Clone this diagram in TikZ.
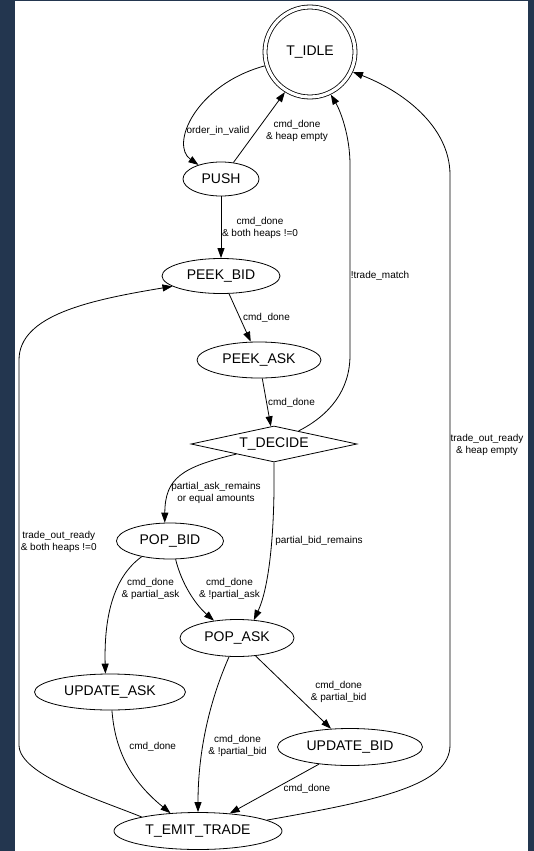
\documentclass[tikz,border=0pt]{standalone}
\usepackage{fontspec}
\setmainfont{Liberation Sans}
\usepackage{tikz}
\usetikzlibrary{arrows.meta,shapes.geometric}
\definecolor{bgnavy}{HTML}{23364F}

\begin{document}
\begin{tikzpicture}[x=1pt, y=1pt, line width=0.8pt,
        st/.style={draw, ellipse, inner sep=0pt, font=\fontsize{14}{16}\selectfont},
        lb/.style={align=center, inner sep=1pt, font=\fontsize{10}{12}\selectfont},
        >={Triangle[length=10pt, width=7pt]}]
        \useasboundingbox (0,0) rectangle (534,-851);
        \fill[bgnavy] (0,0) rectangle (534,-851);
        \fill[white] (15,-1.5) rectangle (528,-851);
        \node[draw, circle, double, double distance=3.2pt, minimum size=90pt, outer sep=2.4pt,
                font=\fontsize{14}{16}\selectfont] (idle) at (310,-52) {T\_IDLE};
        \node[st, minimum width=76pt, minimum height=34pt] (push) at (221,-179) {PUSH};
        \node[st, minimum width=118pt, minimum height=35pt] (peekbid) at (221,-276) {PEEK\_BID};
        \node[st, minimum width=124pt, minimum height=36pt] (peekask) at (259,-360) {PEEK\_ASK};
        \node[st, diamond, aspect=5, minimum width=166pt, minimum height=36pt] (decide) at (274,-444) {T\_DECIDE};
        \node[st, minimum width=107pt, minimum height=36pt] (popbid) at (170,-541) {POP\_BID};
        \node[st, minimum width=114pt, minimum height=37pt] (popask) at (237,-638) {POP\_ASK};
        \node[st, minimum width=151pt, minimum height=36pt] (updask) at (110,-692) {UPDATE\_ASK};
        \node[st, minimum width=145pt, minimum height=37pt] (updbid) at (350,-747) {UPDATE\_BID};
        \node[st, minimum width=168pt, minimum height=37pt] (emit) at (198,-831) {T\_EMIT\_TRADE};

        \draw[->] (idle.197) .. controls (195,-85) and (170,-145) .. (push.148);
        \draw[->] (push.53) -- (idle.238);
        \draw[->] (push) -- (peekbid);
        \draw[->] (peekbid) -- (peekask);
        \draw[->] (peekask) -- (decide);
        \draw[->] (decide.28) .. controls (330,-415) and (350,-390) .. (350,-355) -- (350,-165)
                .. controls (350,-135) and (340,-110) .. (idle.296);
        \draw[->] (emit.9) .. controls (380,-800) and (450,-785) .. (450,-745) -- (450,-175)
                .. controls (450,-125) and (400,-90) .. (idle.-25);
        \draw[->] (emit.166) .. controls (100,-800) and (19,-775) .. (19,-745) -- (19,-360)
                .. controls (19,-315) and (90,-300) .. (peekbid.192);
        \draw[->] (decide.195) .. controls (182,-467) and (165,-478) .. (popbid.106);
        \draw[->] (decide.south) .. controls (275,-540) and (268,-590) .. (popask.47);
        \draw[->] (popbid.209) .. controls (112,-578) and (104,-620) .. (updask.104);
        \draw[->] (popbid.287) .. controls (182,-585) and (196,-605) .. (popask.143);
        \draw[->] (popask) -- (updbid);
        \draw[->] (popask.247) .. controls (210,-700) and (198,-750) .. (emit.north);
        \draw[->] (updask.276) .. controls (115,-750) and (130,-780) .. (emit.147);
        \draw[->] (updbid) -- (emit);

        \node[lb] (lorder) at (218,-131) {order\_in\_valid};
        \node[lb] (lheap) at (297,-131) {cmd\_done\\\& heap empty};
        \node[lb] (lboth) at (260,-227.5) {cmd\_done\\\& both heaps !=0};
        \node[lb] (lpeekbid) at (266.5,-318) {cmd\_done};
        \node[lb] (lpeekask) at (291.5,-403) {cmd\_done};
        \node[lb] (lnomatch) at (380,-276) {!trade\_match};
        \node[lb] (loutempty) at (487,-445) {trade\_out\_ready\\\& heap empty};
        \node[lb] (loutboth) at (58.7,-541.5) {trade\_out\_ready\\\& both heaps !=0};
        \node[lb] (laskrem) at (216,-493) {partial\_ask\_remains\\or equal amounts};
        \node[lb] (lbidrem) at (319,-541) {partial\_bid\_remains};
        \node[lb] (lpartask) at (150.5,-589.3) {cmd\_done\\\& partial\_ask};
        \node[lb] (lnopartask) at (229.5,-589.3) {cmd\_done\\\& !partial\_ask};
        \node[lb] (lpartbid) at (338.7,-692) {cmd\_done\\\& partial\_bid};
        \node[lb] (lnopartbid) at (237.5,-746.3) {cmd\_done\\\& !partial\_bid};
        \node[lb] (lupdask) at (152.7,-746.7) {cmd\_done};
        \node[lb] (lupdbid) at (306.9,-789.3) {cmd\_done};
\end{tikzpicture}
\end{document}
